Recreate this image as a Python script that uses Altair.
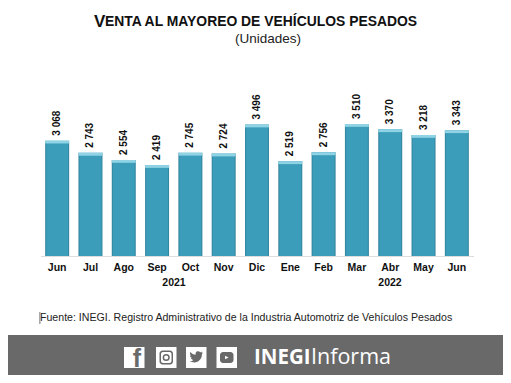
import altair as alt
import pandas as pd

months = ["Jun", "Jul", "Ago", "Sep", "Oct", "Nov", "Dic", "Ene", "Feb", "Mar", "Abr", "May", "Jun"]
years = [2021] * 7 + [2022] * 6
values = [3068, 2743, 2554, 2419, 2745, 2724, 3496, 2519, 2756, 3510, 3370, 3218, 3343]
labels = ["3 068", "2 743", "2 554", "2 419", "2 745", "2 724", "3 496", "2 519", "2 756", "3 510", "3 370", "3 218", "3 343"]
source_text = "Fuente: INEGI. Registro Administrativo de la Industria Automotriz de Vehículos Pesados"

df = pd.DataFrame({
    "key": [f"{m} {y}" for m, y in zip(months, years)],
    "value": values,
    "label": labels,
})
order = df["key"].tolist()
PLOT_W, PLOT_H = 433, 188
LEFT, TOP = 32.5, 60   # page-8px offset of plot area
FONT = "Liberation Sans"

x = alt.X("key:N", sort=order, scale=alt.Scale(paddingInner=0.28, paddingOuter=0.14),
          axis=alt.Axis(title=None, labelExpr="split(datum.label,' ')[0]", labelAngle=0, labelFont=FONT,
                        labelFontWeight="bold", labelFontSize=10.5, labelColor="#111111", labelPadding=6,
                        ticks=False, domainColor="#dddddd", domainWidth=1))
y = alt.Y("value:Q", scale=alt.Scale(domain=[0, 5000], nice=False), axis=None)

grad = alt.Gradient(gradient="linear", x1=0, x2=1, y1=0, y2=0, stops=[
    alt.GradientStop(offset=0, color="#2f7f98"),
    alt.GradientStop(offset=0.07, color="#3c9dba"),
    alt.GradientStop(offset=0.93, color="#3c9dba"),
    alt.GradientStop(offset=1, color="#2f7f98"),
])

bars = alt.Chart(df).mark_bar(color=grad).encode(x=x, y=y)
cap = alt.Chart(df).transform_calculate(low="datum.value-75").mark_bar(color="#8fd3e4").encode(
    x=x, y="value:Q", y2="low:Q")
texts = alt.Chart(df).mark_text(angle=270, align="left", baseline="middle", dx=5, font=FONT,
                                fontWeight="bold", fontSize=10, color="#111111").encode(
    x=x, y="value:Q", text="label:N")

def t(txt, px, py, size, weight="normal", color="#111111", align="center", font=FONT):
    return alt.Chart(pd.DataFrame({"t": [txt]})).mark_text(
        font=font, fontSize=size, fontWeight=weight, color=color, align=align, baseline="middle"
    ).encode(x=alt.value(px - 8 - LEFT), y=alt.value(py - 8 - TOP), text="t:N")

def rect(x0, x1, y0, y1, color, radius=0):
    return alt.Chart(pd.DataFrame({"a": [0]})).mark_rect(color=color, cornerRadius=radius).encode(
        x=alt.value(x0 - 8 - LEFT), x2=alt.value(x1 - 8 - LEFT),
        y=alt.value(y0 - 8 - TOP), y2=alt.value(y1 - 8 - TOP))

def glyph(path, px, py, size, color="#696969", filled=True, sw=0):
    return alt.Chart(pd.DataFrame({"a": [0]})).mark_point(
        shape=path, filled=filled, color=color, size=size, strokeWidth=sw, opacity=1
    ).encode(x=alt.value(px - 8 - LEFT), y=alt.value(py - 8 - TOP))

BIRD = "M1,-0.75 C0.9,-0.7 0.8,-0.68 0.7,-0.66 C0.8,-0.72 0.88,-0.82 0.92,-0.93 C0.82,-0.87 0.72,-0.83 0.6,-0.8 C0.4,-1.02 0.05,-0.98 -0.08,-0.72 C-0.12,-0.62 -0.13,-0.52 -0.1,-0.42 C-0.42,-0.44 -0.72,-0.59 -0.92,-0.84 C-1.03,-0.65 -0.97,-0.41 -0.79,-0.29 C-0.86,-0.29 -0.92,-0.31 -0.98,-0.34 C-0.98,-0.14 -0.84,0.03 -0.65,0.07 C-0.71,0.09 -0.77,0.09 -0.84,0.08 C-0.78,0.25 -0.62,0.36 -0.44,0.37 C-0.6,0.5 -0.8,0.57 -1,0.55 C-0.8,0.68 -0.56,0.75 -0.32,0.75 C0.45,0.75 0.88,0.1 0.86,-0.5 C0.92,-0.56 0.97,-0.65 1,-0.75 Z"
PLAY = "M-1,-1 L1,0 L-1,1 Z"

layers = [
    rect(8, 503, 335, 375, "#696969"),
    rect(124, 144.5, 347, 368, "#ffffff"),
    t("f", 137, 359, 25, "bold", "#696969"),
    rect(156, 176.5, 347, 368, "#ffffff"),
    rect(159.5, 173, 350.5, 364.5, "#696969", 3),
    rect(161, 171.5, 352, 363, "#ffffff", 2),
    glyph("circle", 166.2, 357.5, 32, "#696969", False, 1.5),
    rect(186, 206.5, 347, 368, "#ffffff"),
    glyph(BIRD, 196.3, 357.5, 170),
    rect(216.5, 237, 347, 368, "#ffffff"),
    rect(220, 233.5, 352, 363, "#696969", 3),
    glyph(PLAY, 226.8, 357.5, 12, "#ffffff"),
    t("INEGI", 254, 357.5, 20.5, "bold", "#ffffff", "left", "Open Sans"),
    t("Informa", 311, 357.5, 21.5, "normal", "#ffffff", "left", "Open Sans"),
    bars, cap, texts,
    t(source_text, 40, 318, 10.6, align="left", color="#222222"),
    rect(39.5, 40.3, 312, 324, "#555555"),
    t("2021", 174, 283, 10.5, "bold"),
    t("2022", 390, 283, 10.5, "bold"),
    t("V", 94, 21.5, 17, "bold", align="left"),
    t("ENTA AL MAYOREO DE VEHÍCULOS PESADOS", 105, 22, 13.9, "bold", align="left"),
    t("(Unidades)", 268, 39, 13.5, color="#222222"),
]

chart = alt.layer(*layers).properties(
    width=PLOT_W, height=PLOT_H,
    autosize=alt.AutoSizeParams(type="none"),
    padding={"left": LEFT, "top": TOP, "right": 495 - LEFT - PLOT_W, "bottom": 367 - TOP - PLOT_H},
    background="#ffffff",
).configure_view(stroke=None)

chart.save("out.html", embed_options={"renderer": "svg", "actions": False})
